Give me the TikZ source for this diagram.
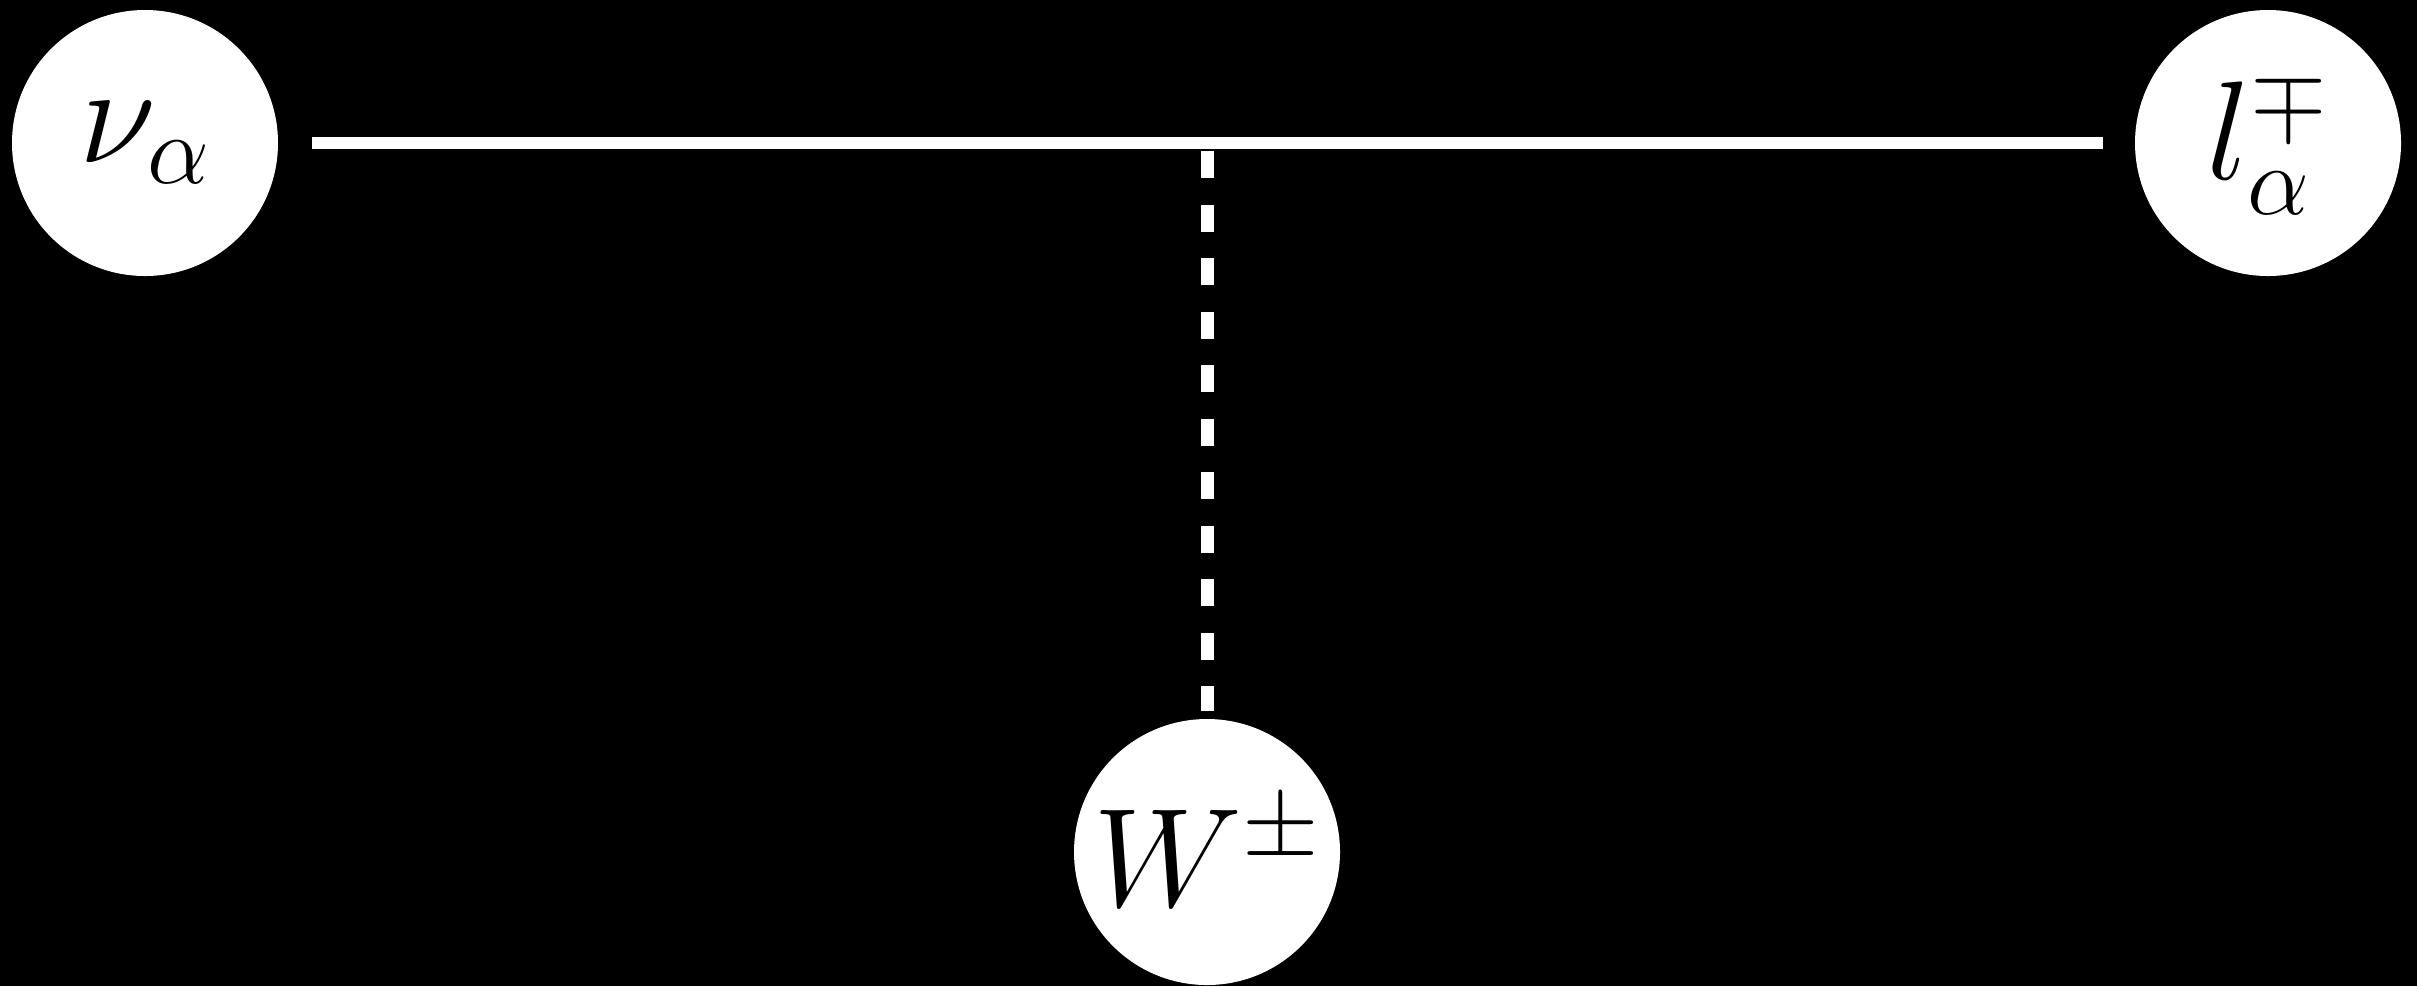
\RequirePackage{fix-cm}
\documentclass[tikz,border=0pt]{standalone}
\usepackage{amsmath,amssymb}
\usepackage{xcolor}
\usetikzlibrary{positioning}
\newcommand{\plabel}[1]{\makebox[0pt]{#1}}

\begin{document}
\begin{tikzpicture}[
    particle/.style={circle, fill=white, text=black, minimum size=2.66cm, inner sep=0pt, font=\fontsize{40}{40}\selectfont},
    fermion/.style={draw=white, line width=0.125cm},
    boson/.style={draw=white, line width=0.13cm, dash pattern=on 0.27cm off 0.265cm}
]
    % black page
    \fill[black] (0,0) rectangle (24.17,-9.86);
    \useasboundingbox (0,0) rectangle (24.17,-9.86);

    \node[particle] (nu) at (1.45,-1.43) {\plabel{$\nu_\alpha$}};
    \node[particle] (lep) at (22.68,-1.43) {\plabel{$l_\alpha^\mp$}};
    \node[particle] (W) at (12.07,-8.52) {\plabel{$W^\pm$}};
    \coordinate (vtx) at (12.07,-1.43);

    \draw[fermion, shorten <=0.33cm, shorten >=-0.06cm] (nu) -- (vtx);
    \draw[fermion, shorten <=-0.05cm, shorten >=0.31cm] (vtx) -- (lep);
    \draw[boson, shorten <=0.08cm, shorten >=0.07cm] (vtx) -- (W);
\end{tikzpicture}
\end{document}
